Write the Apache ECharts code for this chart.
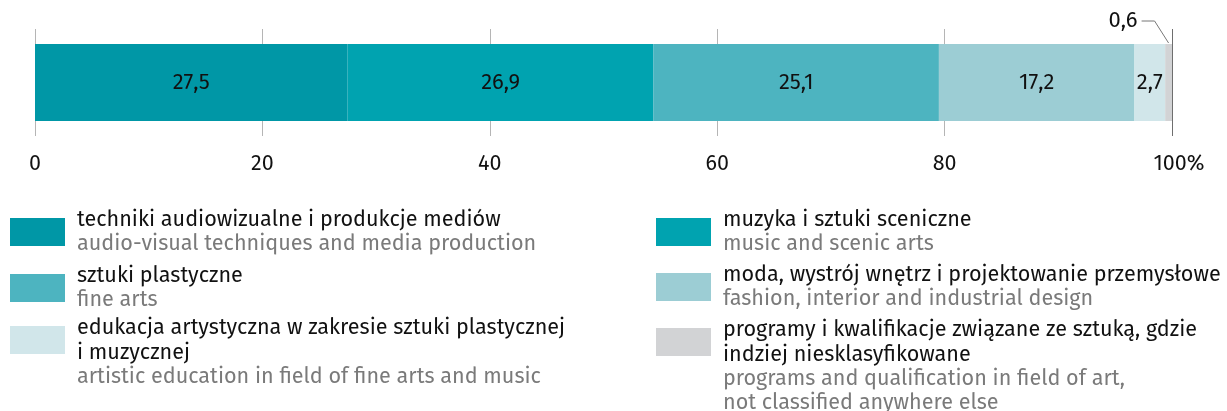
<!DOCTYPE html>
<html lang="pl">
<head>
<meta charset="UTF-8">
<title>Struktura kierunków artystycznych</title>
<script src="https://cdn.jsdelivr.net/npm/echarts@6/dist/echarts.min.js"></script>
</head>
<body style="margin:0">
<div id="main" style="width:1227px;height:411px"></div>
<script type="text/javascript">
  var namesPl = [
    'techniki audiowizualne i produkcje mediów',
    'muzyka i sztuki sceniczne',
    'sztuki plastyczne',
    'moda, wystrój wnętrz i projektowanie przemysłowe',
    'edukacja artystyczna w zakresie sztuki plastycznej\ni muzycznej',
    'programy i kwalifikacje związane ze sztuką, gdzie\nindziej niesklasyfikowane'
  ];
  var namesEn = [
    'audio-visual techniques and media production',
    'music and scenic arts',
    'fine arts',
    'fashion, interior and industrial design',
    'artistic education in field of fine arts and music',
    'programs and qualification in field of art,\nnot classified anywhere else'
  ];
  var values = [27.5, 26.9, 25.1, 17.2, 2.7, 0.6];
  var ticks = [0, 20, 40, 60, 80, 100];
  var colors = ['#0097a6', '#00a3b0', '#4db4c0', '#9ccdd4', '#d1e6ea', '#d2d3d5'];

  var font = "'Fira Sans', 'Noto Sans', sans-serif";
  var barW = 77;
  var myChart = echarts.init(document.getElementById('main'));

  function fmt(v) { return String(v).replace('.', ','); }

  var series = values.map(function (v, i) {
    var last = i === values.length - 1;
    return {
      name: namesPl[i],
      type: 'bar',
      stack: 'total',
      barWidth: barW,
      data: [v],
      itemStyle: {color: colors[i]},
      label: {
        show: !last,
        position: 'inside',
        color: '#111',
        fontSize: 22,
        fontFamily: font,
        formatter: function (p) { return fmt(p.value); }
      }
    };
  });

  // legend built by hand: two columns, Polish line + grey English line
  var graphics = [];
  var rowTops = [[218, 274, 326], [218, 273, 328]];
  values.forEach(function (v, i) {
    var col = i % 2, row = Math.floor(i / 2);
    var x = col === 0 ? 10 : 656;
    var top = rowTops[col][row];
    graphics.push({
      type: 'rect', left: x, top: top,
      shape: {width: 55, height: 28},
      style: {fill: colors[i]}
    });
    var plLines = namesPl[i].split('\n').length;
    graphics.push({
      type: 'text', x: x + 67, y: top - 11,
      style: {text: namesPl[i], fill: '#111', font: '21.6px ' + font, lineHeight: 25, verticalAlign: 'top'}
    });
    graphics.push({
      type: 'text', x: x + 67, y: top - 11 + plLines * 25,
      style: {text: namesEn[i], fill: '#7a7a7a', font: '21.6px ' + font, lineHeight: 24, verticalAlign: 'top'}
    });
  });

  var option = {
    animation: false,
    grid: {left: 35, right: 55, top: 29, bottom: 275},
    xAxis: {
      type: 'value',
      min: ticks[0],
      max: ticks[ticks.length - 1],
      interval: 20,
      axisLine: {show: false},
      axisTick: {show: false},
      splitLine: {
        show: true,
        lineStyle: {color: ['#b5b5b5', '#b5b5b5', '#b5b5b5', '#b5b5b5', '#b5b5b5', '#6e6e6e'], width: 1}
      },
      axisLabel: {
        margin: 17,
        color: '#111',
        fontSize: 21.5,
        fontFamily: font,
        formatter: function (v) { return v === 100 ? '{pct|100%}' : String(v); },
        rich: {pct: {fontSize: 21.5, fontFamily: font, color: '#111', padding: [0, 0, 0, 14]}}
      }
    },
    yAxis: {type: 'category', data: [''], show: false},
    series: series,
    graphic: graphics
  };
  myChart.setOption(option);

  // small last segment: label outside, above left, with a guide line
  var lastV = values[values.length - 1];
  var before = values.slice(0, -1).reduce(function (a, b) { return a + b; }, 0);
  var pt = myChart.convertToPixel({gridIndex: 0}, [before + lastV / 2, 0]);
  var bx = pt[0], by = pt[1] - barW / 2 - 1;
  graphics.push({
    type: 'polyline',
    shape: {points: [[bx - 27, by - 22], [bx - 14, by - 22], [bx, by]]},
    style: {stroke: '#777', lineWidth: 1, fill: null}
  });
  graphics.push({
    type: 'text', x: bx - 31, y: by - 22,
    style: {text: fmt(lastV), fill: '#111', font: '22px ' + font, align: 'right', verticalAlign: 'middle'}
  });
  myChart.setOption({graphic: graphics});
</script>
</body>
</html>
